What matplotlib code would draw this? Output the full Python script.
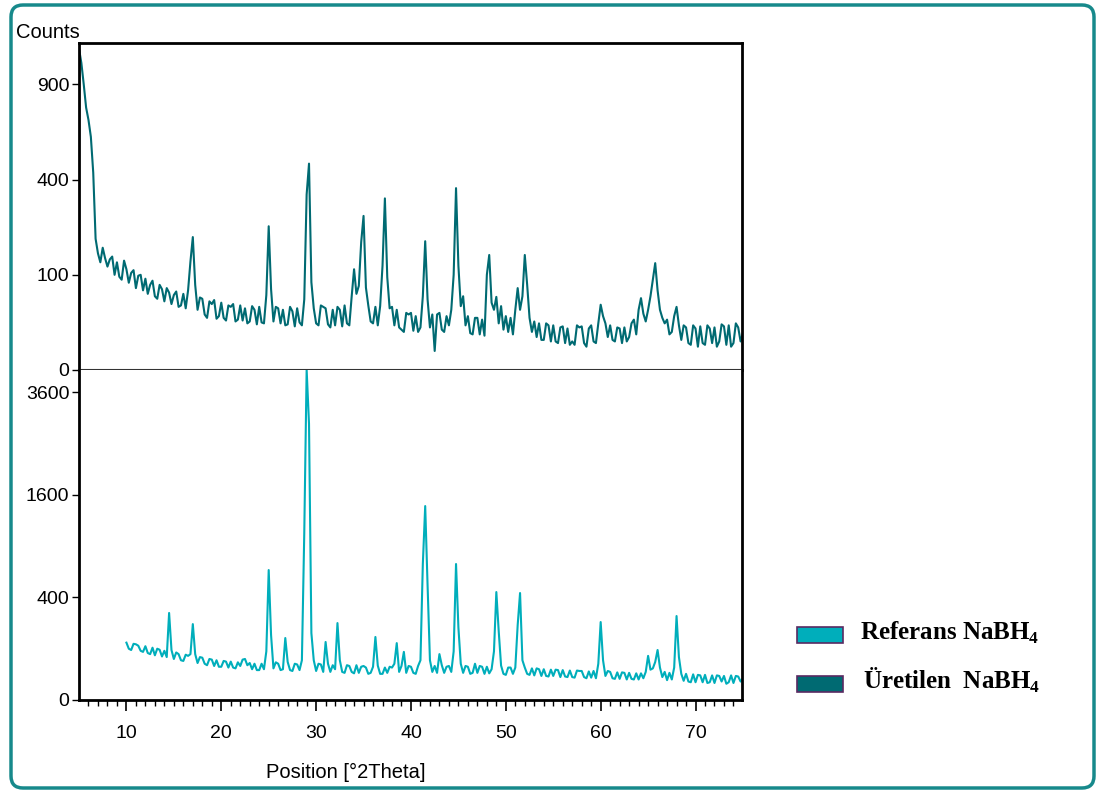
import numpy as np
import matplotlib.pyplot as plt
from matplotlib.patches import FancyBboxPatch, Rectangle

plt.rcParams['font.family'] = ['Liberation Sans', 'DejaVu Sans']
plt.rcParams['mathtext.fontset'] = 'custom'
plt.rcParams['mathtext.bf'] = 'Liberation Serif:bold'
plt.rcParams['mathtext.rm'] = 'Liberation Serif:bold'

# scan step 0.25 deg 2Theta
uretilen_start = 5.0
uretilen = [
    1140, 1040, 900, 760,   # 5
    690, 600, 430, 190,     # 6
    150, 128, 165, 138,     # 7
    118, 135, 142, 100,     # 8
    128, 96, 90, 132,       # 9
    112, 84, 104, 110,      # 10
    74, 98, 100, 70,        # 11
    92, 64, 80, 88,         # 12
    60, 56, 80, 72,         # 13
    52, 74, 66, 48,         # 14
    62, 68, 44, 46,         # 15
    64, 42, 70, 130,        # 16
    195, 80, 40, 58,        # 17
    56, 34, 30, 52,         # 18
    48, 54, 29, 32,         # 19
    50, 30, 27, 46,         # 20
    44, 48, 26, 28,         # 21
    46, 27, 42, 24,         # 22
    26, 45, 40, 23,         # 23
    44, 25, 24, 62,         # 24
    228, 72, 26, 44,        # 25
    42, 24, 40, 22,         # 26
    23, 44, 38, 21,         # 27
    42, 25, 22, 55,         # 28
    340, 470, 85, 42,       # 29
    24, 22, 46, 44,         # 30
    42, 23, 20, 40,         # 31
    22, 44, 40, 21,         # 32
    46, 24, 22, 60,         # 33
    112, 64, 78, 180,       # 34
    262, 75, 46, 26,        # 35
    24, 44, 22, 45,         # 36
    120, 325, 95, 42,       # 37
    44, 22, 40, 20,         # 38
    18, 16, 36, 34,         # 39
    36, 17, 32, 16,         # 40
    20, 60, 183, 55,        # 41
    20, 34, 4, 34,          # 42
    36, 18, 16, 32,         # 43
    22, 40, 100, 365,       # 44
    120, 45, 60, 22,        # 45
    32, 15, 14, 30,         # 46
    30, 14, 28, 13,         # 47
    100, 146, 50, 40,       # 48
    59, 24, 45, 18,         # 49
    32, 16, 30, 14,         # 50
    40, 74, 40, 60,         # 51
    146, 80, 30, 16,        # 52
    26, 12, 24, 10,         # 53
    10, 24, 22, 9,          # 54
    22, 9, 8, 20,           # 55
    21, 8, 19, 7,           # 56
    9, 7, 22, 20,           # 57
    21, 8, 6, 19,           # 58
    22, 9, 8, 24,           # 59
    47, 32, 24, 12,         # 60
    22, 10, 9, 20,          # 61
    19, 8, 20, 9,           # 62
    12, 24, 28, 14,         # 63
    40, 57, 35, 26,         # 64
    40, 60, 90, 126,        # 65
    70, 40, 30, 24,         # 66
    28, 14, 16, 32,         # 67
    44, 22, 10, 22,         # 68
    20, 8, 7, 22,           # 69
    19, 6, 21, 8,           # 70
    7, 22, 19, 8,           # 71
    20, 6, 9, 23,           # 72
    21, 7, 22, 6,           # 73
    8, 24, 20, 9,           # 74
    15,
]

referans_start = 10.0
referans = [
    125, 100, 95, 120,      # 10
    118, 112, 92, 88,       # 11
    110, 84, 80, 104,       # 12
    76, 100, 96, 72,        # 13
    92, 70, 288, 95,        # 14
    64, 86, 80, 60,         # 15
    58, 78, 74, 80,         # 16
    219, 80, 52, 70,        # 17
    68, 50, 46, 64,         # 18
    62, 44, 60, 42,         # 19
    42, 58, 56, 40,         # 20
    56, 40, 38, 54,         # 21
    44, 62, 64, 46,         # 22
    52, 36, 50, 34,         # 23
    34, 50, 36, 90,         # 24
    642, 160, 38, 54,       # 25
    50, 34, 36, 146,        # 26
    55, 34, 32, 50,         # 27
    48, 34, 60, 1060,       # 28
    4150, 2900, 170, 60,    # 29
    32, 50, 48, 30,         # 30
    128, 50, 30, 46,        # 31
    36, 225, 60, 30,        # 32
    28, 46, 44, 30,         # 33
    27, 46, 28, 42,         # 34
    44, 40, 26, 28,         # 35
    42, 151, 45, 26,        # 36
    26, 40, 28, 42,         # 37
    40, 50, 123, 30,        # 38
    44, 88, 28, 44,         # 39
    42, 28, 26, 44,         # 40
    60, 703, 1430, 500,     # 41
    60, 30, 44, 28,         # 42
    80, 46, 28, 42,         # 43
    44, 30, 90, 703,        # 44
    200, 50, 28, 44,        # 45
    42, 26, 28, 50,         # 46
    28, 44, 42, 26,         # 47
    42, 27, 36, 90,         # 48
    443, 180, 45, 26,       # 49
    24, 40, 40, 26,         # 50
    40, 214, 435, 60,       # 51
    40, 26, 24, 38,         # 52
    23, 38, 36, 22,         # 53
    36, 22, 21, 35,         # 54
    22, 35, 34, 20,         # 55
    34, 21, 20, 33,         # 56
    20, 19, 33, 32,         # 57
    32, 20, 18, 31,         # 58
    19, 32, 18, 50,         # 59
    231, 60, 22, 32,        # 60
    30, 18, 17, 29,         # 61
    17, 29, 28, 16,         # 62
    28, 17, 16, 27,         # 63
    16, 27, 18, 30,         # 64
    74, 35, 38, 55,         # 65
    95, 40, 20, 30,         # 66
    15, 28, 16, 40,         # 67
    268, 70, 26, 14,        # 68
    26, 13, 12, 25,         # 69
    12, 24, 23, 12,         # 70
    24, 11, 12, 23,         # 71
    11, 23, 22, 13,         # 72
    22, 10, 12, 23,         # 73
    11, 22, 21, 13,         # 74
    18,
]

top_ticks = [0, 100, 400, 900]
bottom_ticks = [0, 400, 1600, 3600]
x_ticks = [10, 20, 30, 40, 50, 60, 70]
legend_labels = [r'Referans NaBH$_\mathbf{4}$', r'Üretilen  NaBH$_\mathbf{4}$']

col_ref = '#00aebb'
col_ure = '#006a72'
step = 0.25

x_ure = uretilen_start + step * np.arange(len(uretilen))
x_ref = referans_start + step * np.arange(len(referans))

W, H = 1101, 791
fig = plt.figure(figsize=(W / 100, H / 100), dpi=100)

# rounded outer frame
frame = FancyBboxPatch((0.11, 0.03), 10.83, 7.83, boxstyle='round,pad=0,rounding_size=0.12',
                       transform=fig.dpi_scale_trans, fill=False, edgecolor='#17898b', lw=2.5)
fig.patches.append(frame)

ax1 = fig.add_axes([79 / W, 1 - 370 / H, 663 / W, 327 / H])
ax2 = fig.add_axes([79 / W, 1 - 700 / H, 663 / W, 330 / H], sharex=ax1)

sq = (lambda v: np.sqrt(np.clip(v, 0, None)), np.square)

ax1.plot(x_ure, uretilen, color=col_ure, lw=1.5)
ax2.plot(x_ref, referans, color=col_ref, lw=1.5)

ax1.set_yscale('function', functions=sq)
ax2.set_yscale('function', functions=sq)
ax1.set_ylim(0, 1180)
ax2.set_ylim(0, 4140)
ax1.set_xlim(5.0, 74.9)

ax1.set_yticks(top_ticks)
ax1.set_yticklabels([str(t) for t in top_ticks])
ax2.set_yticks(bottom_ticks)
ax2.set_yticklabels([str(t) for t in bottom_ticks])
ax1.set_yticks([], minor=True)
ax2.set_yticks([], minor=True)

ax2.set_xticks(x_ticks)
ax2.set_xticks(np.arange(6, 75, 1), minor=True)

for ax in (ax1, ax2):
    for s in ax.spines.values():
        s.set_linewidth(2)
        s.set_color('black')
    ax.tick_params(axis='y', direction='out', length=5, width=1, labelsize=14, pad=2)

ax1.spines['bottom'].set_linewidth(1.5)
ax1.spines['bottom'].set_color('#333333')
ax2.spines['top'].set_visible(False)
ax1.tick_params(axis='x', which='both', bottom=False, labelbottom=False)
ax2.tick_params(axis='x', which='major', direction='out', length=8, width=1.2, labelsize=14, pad=10)
ax2.tick_params(axis='x', which='minor', direction='out', length=4, width=1)

ax2.set_xlabel('Position [°2Theta]', fontsize=14.5)
ax2.xaxis.set_label_coords(0.403, -0.19)
fig.text(16 / W, 1 - 32 / H, 'Counts', fontsize=14.5, va='center', ha='left')

# legend drawn by hand on the right
for i, (col, lab) in enumerate(zip([col_ref, col_ure], legend_labels)):
    y0 = 627 + 49 * i
    fig.patches.append(Rectangle((797 / W, 1 - (y0 + 16) / H), 46 / W, 16 / H,
                                 transform=fig.transFigure, facecolor=col,
                                 edgecolor='#5a2a62', lw=1.2))
    fig.text((860 + 3 * i) / W, 1 - (y0 + 13) / H, lab, fontsize=18,
             family='Liberation Serif', weight='bold', va='baseline', ha='left')

fig.savefig('out.png', dpi=100)
